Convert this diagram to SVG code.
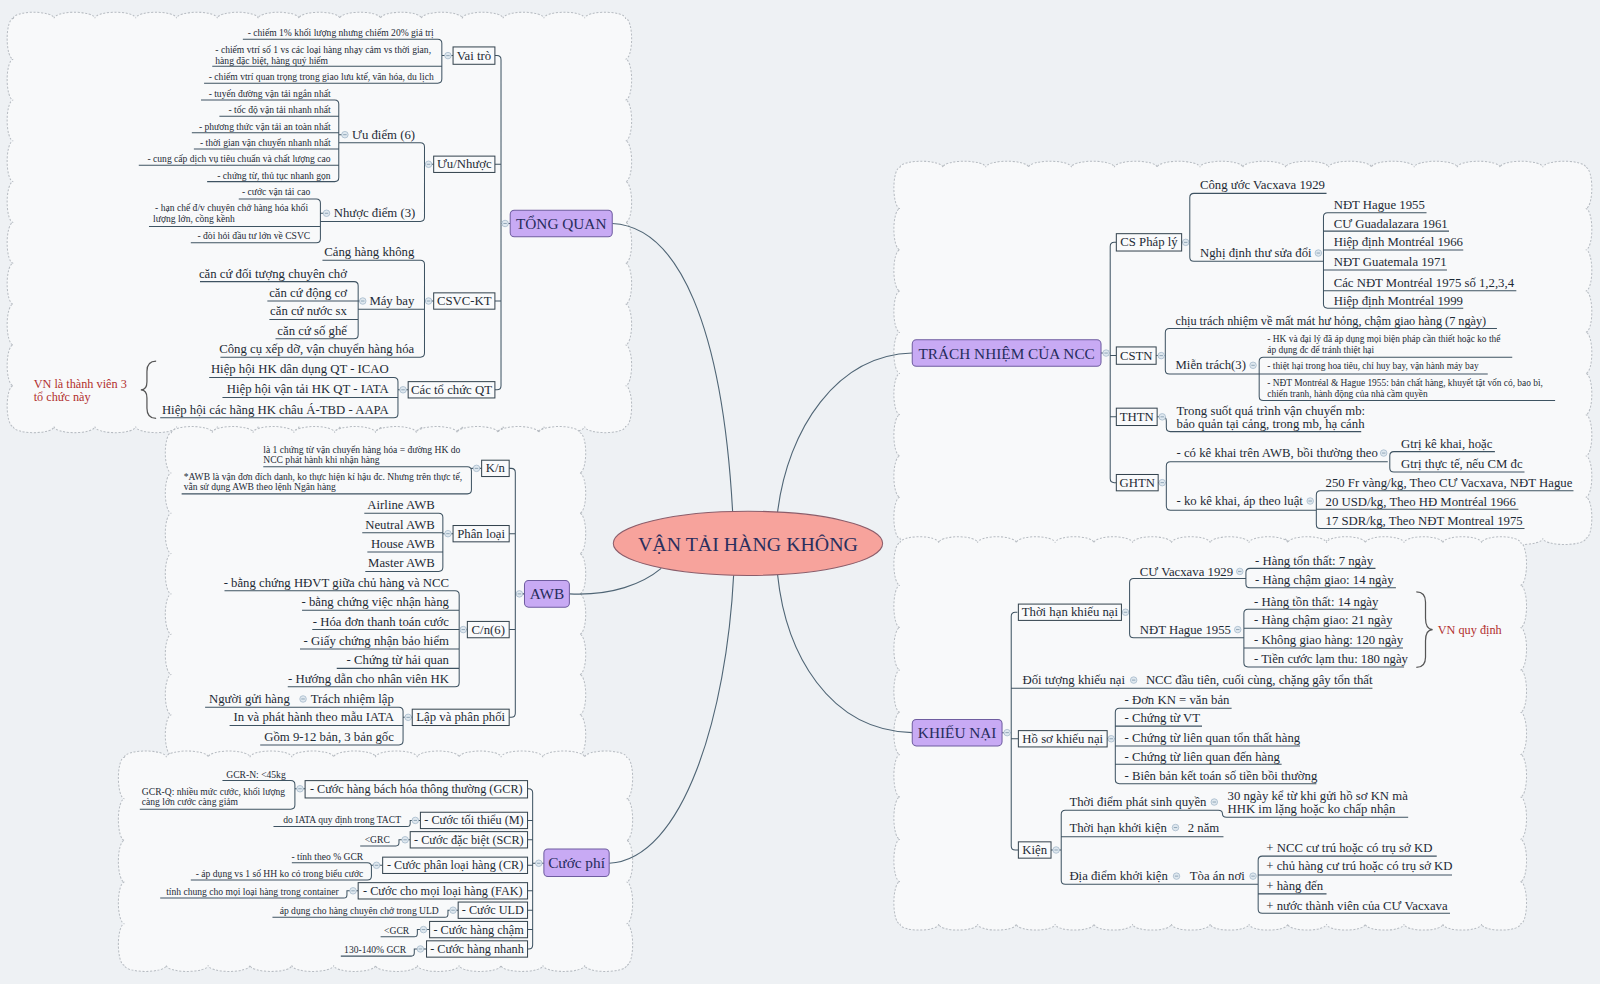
<svg xmlns="http://www.w3.org/2000/svg" width="1600" height="984" viewBox="0 0 1600 984">
<style>
text{font-family:"Liberation Serif","Times New Roman",serif;fill:#1d2a35;font-size:12.5px}
.s{font-size:9.4px}
.xs{font-size:9.2px}
.b12{font-size:12px}
.e{text-anchor:end}
.m{text-anchor:middle}
.r{fill:#b2302e;font-size:12px}
.h{font-size:15px;fill:#262c5c}
.ln{fill:none;stroke:#3e5362;stroke-width:1}
.cn{fill:none;stroke:#4f6575;stroke-width:1.1}
.bx{fill:#f9fafb;stroke:#35444f;stroke-width:1}
.l1{fill:#c8aaf4;stroke:#6f5da0;stroke-width:1}
.cl{fill:#f8f9fa;stroke:#b7bcc2;stroke-width:1;stroke-dasharray:2 1.6}
.br{fill:none;stroke:#555;stroke-width:1.2}
</style>
<defs>
<g id="c"><circle r="3.2" fill="#dfe8ef" stroke="#a6bacb" stroke-width="0.8"/><path d="M-1.7,0H1.7" stroke="#7e96aa" stroke-width="0.8"/></g>
</defs>
<rect width="1600" height="984" fill="#eef1f4"/>
<g transform="scale(1.020408)">
<g id="clouds">
<path class="cl" d="M13,18 a20,6 0 0 1 40,0 a20,6 0 0 1 40,0 a20,6 0 0 1 40,0 a20,6 0 0 1 40,0 a20,6 0 0 1 40,0 a20,6 0 0 1 40,0 a20,6 0 0 1 40,0 a20,6 0 0 1 40,0 a20,6 0 0 1 40,0 a20,6 0 0 1 40,0 a20,6 0 0 1 40,0 a20,6 0 0 1 40,0 a20,6 0 0 1 40,0 a20,6 0 0 1 40,0 a20,6 0 0 1 40,0 a6,20 0 0 1 0,40 a6,20 0 0 1 0,40 a6,20 0 0 1 0,40 a6,20 0 0 1 0,40 a6,20 0 0 1 0,40 a6,20 0 0 1 0,40 a6,20 0 0 1 0,40 a6,20 0 0 1 0,40 a6,20 0 0 1 0,40 a6,20 0 0 1 0,40 a20,6 0 0 1 -40,0 a20,6 0 0 1 -40,0 a20,6 0 0 1 -40,0 a20,6 0 0 1 -40,0 a20,6 0 0 1 -40,0 a20,6 0 0 1 -40,0 a20,6 0 0 1 -40,0 a20,6 0 0 1 -40,0 a20,6 0 0 1 -40,0 a20,6 0 0 1 -40,0 a20,6 0 0 1 -40,0 a20,6 0 0 1 -40,0 a20,6 0 0 1 -40,0 a20,6 0 0 1 -40,0 a20,6 0 0 1 -40,0 a6,20 0 0 1 0,-40 a6,20 0 0 1 0,-40 a6,20 0 0 1 0,-40 a6,20 0 0 1 0,-40 a6,20 0 0 1 0,-40 a6,20 0 0 1 0,-40 a6,20 0 0 1 0,-40 a6,20 0 0 1 0,-40 a6,20 0 0 1 0,-40 a6,20 0 0 1 0,-40z"/>
<path class="cl" d="M168,424 a20,6 0 0 1 40,0 a20,6 0 0 1 40,0 a20,6 0 0 1 40,0 a20,6 0 0 1 40,0 a20,6 0 0 1 40,0 a20,6 0 0 1 40,0 a20,6 0 0 1 40,0 a20,6 0 0 1 40,0 a20,6 0 0 1 40,0 a20,6 0 0 1 40,0 a6,19.75 0 0 1 0,39.5 a6,19.75 0 0 1 0,39.5 a6,19.75 0 0 1 0,39.5 a6,19.75 0 0 1 0,39.5 a6,19.75 0 0 1 0,39.5 a6,19.75 0 0 1 0,39.5 a6,19.75 0 0 1 0,39.5 a6,19.75 0 0 1 0,39.5 a20,6 0 0 1 -40,0 a20,6 0 0 1 -40,0 a20,6 0 0 1 -40,0 a20,6 0 0 1 -40,0 a20,6 0 0 1 -40,0 a20,6 0 0 1 -40,0 a20,6 0 0 1 -40,0 a20,6 0 0 1 -40,0 a20,6 0 0 1 -40,0 a20,6 0 0 1 -40,0 a6,19.75 0 0 1 0,-39.5 a6,19.75 0 0 1 0,-39.5 a6,19.75 0 0 1 0,-39.5 a6,19.75 0 0 1 0,-39.5 a6,19.75 0 0 1 0,-39.5 a6,19.75 0 0 1 0,-39.5 a6,19.75 0 0 1 0,-39.5 a6,19.75 0 0 1 0,-39.5z"/>
<path class="cl" d="M122,742 a20.5,6 0 0 1 41,0 a20.5,6 0 0 1 41,0 a20.5,6 0 0 1 41,0 a20.5,6 0 0 1 41,0 a20.5,6 0 0 1 41,0 a20.5,6 0 0 1 41,0 a20.5,6 0 0 1 41,0 a20.5,6 0 0 1 41,0 a20.5,6 0 0 1 41,0 a20.5,6 0 0 1 41,0 a20.5,6 0 0 1 41,0 a20.5,6 0 0 1 41,0 a6,20.4 0 0 1 0,40.8 a6,20.4 0 0 1 0,40.8 a6,20.4 0 0 1 0,40.8 a6,20.4 0 0 1 0,40.8 a6,20.4 0 0 1 0,40.8 a20.5,6 0 0 1 -41,0 a20.5,6 0 0 1 -41,0 a20.5,6 0 0 1 -41,0 a20.5,6 0 0 1 -41,0 a20.5,6 0 0 1 -41,0 a20.5,6 0 0 1 -41,0 a20.5,6 0 0 1 -41,0 a20.5,6 0 0 1 -41,0 a20.5,6 0 0 1 -41,0 a20.5,6 0 0 1 -41,0 a20.5,6 0 0 1 -41,0 a20.5,6 0 0 1 -41,0 a6,20.4 0 0 1 0,-40.8 a6,20.4 0 0 1 0,-40.8 a6,20.4 0 0 1 0,-40.8 a6,20.4 0 0 1 0,-40.8 a6,20.4 0 0 1 0,-40.8z"/>
<path class="cl" d="M882,164 a21,6 0 0 1 42,0 a21,6 0 0 1 42,0 a21,6 0 0 1 42,0 a21,6 0 0 1 42,0 a21,6 0 0 1 42,0 a21,6 0 0 1 42,0 a21,6 0 0 1 42,0 a21,6 0 0 1 42,0 a21,6 0 0 1 42,0 a21,6 0 0 1 42,0 a21,6 0 0 1 42,0 a21,6 0 0 1 42,0 a21,6 0 0 1 42,0 a21,6 0 0 1 42,0 a21,6 0 0 1 42,0 a21,6 0 0 1 42,0 a6,20.2 0 0 1 0,40.4 a6,20.2 0 0 1 0,40.4 a6,20.2 0 0 1 0,40.4 a6,20.2 0 0 1 0,40.4 a6,20.2 0 0 1 0,40.4 a6,20.2 0 0 1 0,40.4 a6,20.2 0 0 1 0,40.4 a6,20.2 0 0 1 0,40.4 a6,20.2 0 0 1 0,40.4 a21,6 0 0 1 -42,0 a21,6 0 0 1 -42,0 a21,6 0 0 1 -42,0 a21,6 0 0 1 -42,0 a21,6 0 0 1 -42,0 a21,6 0 0 1 -42,0 a21,6 0 0 1 -42,0 a21,6 0 0 1 -42,0 a21,6 0 0 1 -42,0 a21,6 0 0 1 -42,0 a21,6 0 0 1 -42,0 a21,6 0 0 1 -42,0 a21,6 0 0 1 -42,0 a21,6 0 0 1 -42,0 a21,6 0 0 1 -42,0 a21,6 0 0 1 -42,0 a6,20.2 0 0 1 0,-40.4 a6,20.2 0 0 1 0,-40.4 a6,20.2 0 0 1 0,-40.4 a6,20.2 0 0 1 0,-40.4 a6,20.2 0 0 1 0,-40.4 a6,20.2 0 0 1 0,-40.4 a6,20.2 0 0 1 0,-40.4 a6,20.2 0 0 1 0,-40.4 a6,20.2 0 0 1 0,-40.4z"/>
<path class="cl" d="M882,532 a19,6 0 0 1 38,0 a19,6 0 0 1 38,0 a19,6 0 0 1 38,0 a19,6 0 0 1 38,0 a19,6 0 0 1 38,0 a19,6 0 0 1 38,0 a19,6 0 0 1 38,0 a19,6 0 0 1 38,0 a19,6 0 0 1 38,0 a19,6 0 0 1 38,0 a19,6 0 0 1 38,0 a19,6 0 0 1 38,0 a19,6 0 0 1 38,0 a19,6 0 0 1 38,0 a19,6 0 0 1 38,0 a19,6 0 0 1 38,0 a6,20.75 0 0 1 0,41.5 a6,20.75 0 0 1 0,41.5 a6,20.75 0 0 1 0,41.5 a6,20.75 0 0 1 0,41.5 a6,20.75 0 0 1 0,41.5 a6,20.75 0 0 1 0,41.5 a6,20.75 0 0 1 0,41.5 a6,20.75 0 0 1 0,41.5 a6,20.75 0 0 1 0,41.5 a19,6 0 0 1 -38,0 a19,6 0 0 1 -38,0 a19,6 0 0 1 -38,0 a19,6 0 0 1 -38,0 a19,6 0 0 1 -38,0 a19,6 0 0 1 -38,0 a19,6 0 0 1 -38,0 a19,6 0 0 1 -38,0 a19,6 0 0 1 -38,0 a19,6 0 0 1 -38,0 a19,6 0 0 1 -38,0 a19,6 0 0 1 -38,0 a19,6 0 0 1 -38,0 a19,6 0 0 1 -38,0 a19,6 0 0 1 -38,0 a19,6 0 0 1 -38,0 a6,20.75 0 0 1 0,-41.5 a6,20.75 0 0 1 0,-41.5 a6,20.75 0 0 1 0,-41.5 a6,20.75 0 0 1 0,-41.5 a6,20.75 0 0 1 0,-41.5 a6,20.75 0 0 1 0,-41.5 a6,20.75 0 0 1 0,-41.5 a6,20.75 0 0 1 0,-41.5 a6,20.75 0 0 1 0,-41.5z"/>
</g>
<g id="connectors">
<path class="cn" d="M600,219 C665,222 708,320 718,502 M894,346 C820,348 772,420 762,502 M558,582 C600,584 630,572 648,557 M597,846 C670,842 712,700 719,563 M894,718 C812,716 770,640 762,563"/>
<path class="ln" d="M485,54.5 H487 Q491,54.5 491,58.5 V378 Q491,382 487,382 H485 M485,161 H491 M485,295 H491 M491,219 H500
M433,54.5 H444 M238,38.5 H429 Q433,38.5 433,42.5 V77.5 Q433,81.5 429,81.5 H200 M208,65 H433
M416,161 H425 M332,140 H412 Q416,140 416,144 V213 Q416,217 412,217 H314
M332,132 H338 M197,98 H328 Q332,98 332,102 V174 Q332,178 328,178 H203 M215,114 H332 M188,130 H332 M190,146 H332 M136,162 H332
M314,209 H320 M234,195 H310 Q314,195 314,199 V234 Q314,238 310,238 H187 M146,222 H314
M416,295 H425 M316,255 H412 Q416,255 416,259 V346 Q416,350 412,350 H216 M351,303 H416
M351,295 H355 M196,276 H347 Q351,276 351,280 V328 Q351,332 347,332 H270 M262,295 H351 M264,313 H351
M390,382 H400 M205,370 H386 Q390,370 390,374 V405.5 Q390,409.5 386,409.5 H157 M218,389.5 H390"/>
<path class="ln" d="M499,459 H501 Q505,459 505,463 V699 Q505,703 501,703 H499 M499,523 H505 M499,617 H505 M505,582 H514
M462,459 H472 M258,457.5 H458 Q462,457.5 462,461.5 V480 Q462,484 458,484 H178
M434,523 H444 M357,503 H430 Q434,503 434,507 V556 Q434,560 430,560 H358 M355,522 H434 M360,541 H434
M450,617 H458 M220,579 H446 Q450,579 450,583 V669 Q450,673 446,673 H282 M296,598 H450 M306,617 H450 M294,636 H450 M330,655 H450
M395,703 H404 M201,693 H391 Q395,693 395,697 V726 Q395,730 391,730 H255 M225,711 H395"/>
<path class="ln" d="M517,773 H518 Q522,773 522,777 V926 Q522,930 518,930 H517 M517,804 H522 M517,823 H522 M517,848 H522 M517,873 H522 M517,892 H522 M517,911 H522 M522,846 H533
M289,773 H299 M218,765 H285 Q289,765 289,769 V789 Q289,793 285,793 H137
M268,810 H399 Q402,810 402,807 V804 H412
M353,829 H388 Q391,829 391,826 V823 H402
M364,848 H375 M286,845.5 H360 Q364,845.5 364,849.5 V858.5 Q364,862.5 360,862.5 H187
M157,880 H337 Q340,880 340,877 V873 H351
M267,899 H436 Q439,899 439,896 V892 H449
M373,918 H406 Q409,918 409,915 V911 H421
M334,937 H403 Q406,937 406,934 V930 H418"/>
<path class="ln" d="M1079,346 H1088 M1094,237.5 H1092 Q1088,237.5 1088,241.5 V469 Q1088,473 1092,473 H1094 M1088,348.5 H1094 M1088,408.5 H1094
M1158,237.5 H1166 M1300,189.5 H1170 Q1166,189.5 1166,193.5 V252 Q1166,256 1170,256 H1297
M1398,208.5 H1301 Q1297,208.5 1297,212.5 V298 Q1297,302 1301,302 H1434 M1297,226.5 H1420 M1297,245 H1434 M1297,264.5 H1418 M1297,285 H1486
M1133,348.5 H1142 M1467,322 H1146 Q1142,322 1142,326 V362.5 Q1142,366.5 1146,366.5 H1234
M1482,350 H1238 Q1234,350 1234,354 V388.5 Q1234,392.5 1238,392.5 H1524 M1234,366.5 H1458
M1134,408.5 H1139 Q1143,408.5 1143,412.5 V419 Q1143,423 1147,423 H1334
M1135,473 H1143 M1360,452.6 H1147 Q1143,452.6 1143,456.6 V496 Q1143,500 1147,500 H1290
M1465,442.6 H1366 Q1362,442.6 1362,446.6 V458.6 Q1362,462.6 1366,462.6 H1494
M1542,481 H1294 Q1290,481 1290,485 V514 Q1290,518 1294,518 H1494 M1290,499 H1488"/>
<path class="ln" d="M982,718 H991 M997,600 H995 Q991,600 991,604 V829 Q991,833 995,833 H998 M991,674.5 H1345 M991,724 H998
M1099,600 H1107 M1221,567 H1111 Q1107,567 1107,571 V621 Q1107,625 1111,625 H1219
M1348,557 H1225 Q1221,557 1221,561 V572 Q1221,576 1225,576 H1368
M1350,597 H1223 Q1219,597 1219,601 V649.6 Q1219,653.6 1223,653.6 H1376 M1219,615.6 H1364 M1219,635 H1375
M1085,724 H1093 M1207,694 H1097 Q1093,694 1093,698 V764 Q1093,768 1097,768 H1290 M1093,711.6 H1178 M1093,731 H1274 M1093,749 H1256
M1030,833 H1040 M1380,801 H1202 Q1198,801 1198,797.5 Q1198,794 1194,794 H1044 Q1040,794 1040,798 V862.6 Q1040,866.6 1044,866.6 H1233 M1040,820 H1199
M1408,839 H1237 Q1233,839 1233,843 V891 Q1233,895 1237,895 H1421 M1233,857.6 H1423 M1233,876 H1300"/>
<path class="br" d="M153,354 Q144,354 144,364 V374 Q144,382 138,382 Q144,382 144,390 V400 Q144,410 153,410"/>
<path class="br" d="M1388,580 Q1397,580 1397,590 V606 Q1397,617 1404,617 Q1397,617 1397,628 V644 Q1397,654 1388,654"/>
<use href="#c" x="495" y="219"/><use href="#c" x="439" y="54.5"/><use href="#c" x="420" y="161"/><use href="#c" x="420" y="295"/><use href="#c" x="395" y="382"/><use href="#c" x="338" y="132"/><use href="#c" x="320" y="209"/><use href="#c" x="355.5" y="295"/>
<use href="#c" x="509" y="582"/><use href="#c" x="467" y="459"/><use href="#c" x="439" y="523"/><use href="#c" x="454" y="617"/><use href="#c" x="400" y="703"/><use href="#c" x="297" y="685"/>
<use href="#c" x="528" y="846"/><use href="#c" x="294" y="773"/><use href="#c" x="407" y="804"/><use href="#c" x="397" y="823"/><use href="#c" x="369" y="848"/><use href="#c" x="346" y="873"/><use href="#c" x="444" y="892"/><use href="#c" x="415" y="911"/><use href="#c" x="412" y="930"/>
<use href="#c" x="1084" y="346"/><use href="#c" x="1162" y="237.5"/><use href="#c" x="1292" y="248"/><use href="#c" x="1138" y="348.5"/><use href="#c" x="1228" y="358"/><use href="#c" x="1139" y="408.5"/><use href="#c" x="1139" y="473"/><use href="#c" x="1356" y="444"/><use href="#c" x="1284" y="491"/>
<use href="#c" x="987" y="718"/><use href="#c" x="1103" y="600"/><use href="#c" x="1215" y="560"/><use href="#c" x="1213" y="617"/><use href="#c" x="1111" y="666.5"/><use href="#c" x="1089" y="724"/><use href="#c" x="1035" y="833"/><use href="#c" x="1190" y="786"/><use href="#c" x="1152" y="811"/><use href="#c" x="1153" y="858.6"/><use href="#c" x="1228" y="858.6"/>
</g>
<g id="center"><ellipse cx="733" cy="532.5" rx="132" ry="31.5" fill="#f7a39c" stroke="#8b5d6a" stroke-width="1"/><text x="733" y="539.5" class="m" style="font-size:19.5px;fill:#2a2f5e">VẬN TẢI HÀNG KHÔNG</text></g>
<g id="tong-quan"><rect class="l1" x="500" y="206" width="100" height="26" rx="4"/><text class="h m" x="550" y="224.5">TỔNG QUAN</text></g>
<g id="vai-tro"><rect class="bx" x="444" y="46" width="41" height="17"/><text class="m" x="464.5" y="58.5">Vai trò</text>
<text class="s e" x="425" y="35.5">- chiếm 1% khối lượng nhưng chiếm 20% giá trị</text>
<text class="s" x="211" y="52">- chiếm vtrí số 1 vs các loại hàng nhạy cảm vs thời gian,</text>
<text class="s" x="211" y="62.5">hàng đặc biệt, hàng quý hiếm</text>
<text class="s e" x="425" y="78.5">- chiếm vtrí quan trọng trong giao lưu ktế, văn hóa, du lịch</text></g>
<g id="uu-nhuoc"><rect class="bx" x="425" y="153" width="60" height="16"/><text class="m" x="455" y="165">Ưu/Nhược</text></g>
<g id="uu-diem"><text x="345" y="136">Ưu điểm (6)</text>
<text class="s e" x="324" y="95">- tuyến đường vận tải ngắn nhất</text>
<text class="s e" x="324" y="111">- tốc độ vận tải nhanh nhất</text>
<text class="s e" x="324" y="127">- phương thức vận tải an toàn nhất</text>
<text class="s e" x="324" y="143">- thời gian vận chuyển nhanh nhất</text>
<text class="s e" x="324" y="159">- cung cấp dịch vụ tiêu chuẩn và chất lượng cao</text>
<text class="s e" x="324" y="175">- chứng từ, thủ tục nhanh gọn</text></g>
<g id="nhuoc-diem"><text x="327" y="213">Nhược điểm (3)</text>
<text class="s e" x="304" y="191.5">- cước vận tải cao</text>
<text class="s" x="152" y="207">- hạn chế đ/v chuyên chở hàng hóa khối</text>
<text class="s" x="150" y="218">lượng lớn, cồng kềnh</text>
<text class="s e" x="304" y="234.5">- đòi hỏi đầu tư lớn về CSVC</text></g>
<g id="csvc-kt"><rect class="bx" x="425" y="287" width="60" height="16"/><text class="m" x="455" y="299">CSVC-KT</text>
<text class="e" x="406" y="251">Cảng hàng không</text>
<text class="e" x="406" y="346">Công cụ xếp dỡ, vận chuyển hàng hóa</text></g>
<g id="may-bay"><text x="362" y="299">Máy bay</text>
<text class="e" x="340" y="272">căn cứ đối tượng chuyên chở</text>
<text class="e" x="340" y="291">căn cứ động cơ</text>
<text class="e" x="340" y="309">căn cứ nước sx</text>
<text class="e" x="340" y="328">căn cứ số ghế</text></g>
<g id="to-chuc-qt"><rect class="bx" x="400" y="374" width="85" height="16"/><text class="m" x="442.5" y="386">Các tổ chức QT</text>
<text class="e" x="381" y="366">Hiệp hội HK dân dụng QT - ICAO</text>
<text class="e" x="381" y="385.5">Hiệp hội vận tải HK QT - IATA</text>
<text class="e" x="381" y="405.5">Hiệp hội các hãng HK châu Á-TBD - AAPA</text>
<text class="r" x="33" y="380">VN là thành viên 3</text>
<text class="r" x="33" y="393">tổ chức này</text></g>
<g id="awb"><rect class="l1" x="514" y="569" width="44" height="26" rx="4"/><text class="h m" x="536" y="587.5">AWB</text></g>
<g id="kn"><rect class="bx" x="472" y="451" width="27" height="16"/><text class="m" x="485.5" y="463">K/n</text>
<text class="s" x="258" y="443.5">là 1 chứng từ vận chuyển hàng hóa = đường HK do</text>
<text class="s" x="258" y="453.5">NCC phát hành khi nhận hàng</text>
<text class="s" x="180" y="470.5">*AWB là vận đơn đích danh, ko thực hiện kí hậu đc. Nhưng trên thực tế,</text>
<text class="s" x="180" y="480.5">vẫn sử dụng AWB theo lệnh Ngân hàng</text></g>
<g id="phan-loai"><rect class="bx" x="444" y="515" width="55" height="16"/><text class="m" x="471.5" y="527">Phân loại</text>
<text class="e" x="426" y="499">Airline AWB</text>
<text class="e" x="426" y="518">Neutral AWB</text>
<text class="e" x="426" y="537">House AWB</text>
<text class="e" x="426" y="556">Master AWB</text></g>
<g id="cn6"><rect class="bx" x="458" y="609" width="41" height="16"/><text class="m" x="478.5" y="621">C/n(6)</text>
<text class="e" x="440" y="575">- bằng chứng HĐVT giữa chủ hàng và NCC</text>
<text class="e" x="440" y="594">- bằng chứng việc nhận hàng</text>
<text class="e" x="440" y="613">- Hóa đơn thanh toán cước</text>
<text class="e" x="440" y="632">- Giấy chứng nhận bảo hiểm</text>
<text class="e" x="440" y="651">- Chứng từ hải quan</text>
<text class="e" x="440" y="669">- Hướng dẫn cho nhân viên HK</text></g>
<g id="lap-phan-phoi"><rect class="bx" x="404" y="695" width="95" height="16"/><text class="m" x="451.5" y="707">Lập và phân phối</text>
<text class="e" x="386" y="689">Trách nhiệm lập</text>
<text class="e" x="284" y="689">Người gửi hàng</text>
<text class="e" x="386" y="707">In và phát hành theo mẫu IATA</text>
<text class="e" x="386" y="726">Gồm 9-12 bản, 3 bản gốc</text></g>
<g id="cuoc-phi"><rect class="l1" x="533" y="832" width="64" height="27" rx="4"/><text class="h m" x="565" y="851">Cước phí</text></g>
<g id="gcr"><rect class="bx" x="299" y="765" width="218" height="17"/><text class="m b12" x="408" y="777.5">- Cước hàng bách hóa thông thường (GCR)</text>
<text class="s e" x="280" y="762">GCR-N: &lt;45kg</text>
<text class="s" x="139" y="779">GCR-Q: nhiều mức cước, khối lượng</text>
<text class="s" x="139" y="789">càng lớn cước càng giảm</text></g>
<g id="cuoc-m"><rect class="bx" x="412" y="796" width="105" height="16"/><text class="m b12" x="464.5" y="808">- Cước tối thiểu (M)</text>
<text class="s e" x="393" y="807">do IATA quy định trong TACT</text></g>
<g id="cuoc-scr"><rect class="bx" x="402" y="815" width="115" height="16"/><text class="m b12" x="459.5" y="827">- Cước đặc biệt (SCR)</text>
<text class="s e" x="382" y="826">&lt;GRC</text></g>
<g id="cuoc-cr"><rect class="bx" x="375" y="840" width="142" height="16"/><text class="m b12" x="446" y="852">- Cước phân loại hàng (CR)</text>
<text class="s e" x="356" y="842.5">- tính theo % GCR</text>
<text class="s e" x="356" y="859.5">- áp dụng vs 1 số HH ko có trong biểu cước</text></g>
<g id="cuoc-fak"><rect class="bx" x="351" y="865" width="166" height="16"/><text class="m b12" x="434" y="877">- Cước cho mọi loại hàng (FAK)</text>
<text class="s e" x="332" y="877">tính chung cho mọi loại hàng trong container</text></g>
<g id="cuoc-uld"><rect class="bx" x="449" y="884" width="68" height="16"/><text class="m b12" x="483" y="896">- Cước ULD</text>
<text class="s e" x="430" y="896">áp dụng cho hàng chuyên chở trong ULD</text></g>
<g id="cuoc-cham"><rect class="bx" x="421" y="903" width="96" height="16"/><text class="m b12" x="469" y="915">- Cước hàng chậm</text>
<text class="s e" x="401" y="915">&lt;GCR</text></g>
<g id="cuoc-nhanh"><rect class="bx" x="418" y="922" width="99" height="16"/><text class="m b12" x="467.5" y="934">- Cước hàng nhanh</text>
<text class="s e" x="398" y="934">130-140% GCR</text></g>
<g id="trach-nhiem"><rect class="l1" x="894" y="333" width="185" height="26" rx="4"/><text class="h m" x="986.5" y="351.5">TRÁCH NHIỆM CỦA NCC</text></g>
<g id="cs-phap-ly"><rect class="bx" x="1094" y="229" width="64" height="17"/><text class="m" x="1126" y="241.5">CS Pháp lý</text>
<text x="1176" y="185">Công ước Vacxava 1929</text>
<text x="1176" y="252">Nghị định thư sửa đổi</text>
<text x="1307" y="204.5">NĐT Hague 1955</text>
<text x="1307" y="223">CƯ Guadalazara 1961</text>
<text x="1307" y="241.5">Hiệp định Montréal 1966</text>
<text x="1307" y="261">NĐT Guatemala 1971</text>
<text x="1307" y="281">Các NĐT Montréal 1975 số 1,2,3,4</text>
<text x="1307" y="298.5">Hiệp định Montréal 1999</text></g>
<g id="cstn"><rect class="bx" x="1094" y="340" width="39" height="17"/><text class="m" x="1113.5" y="352.5">CSTN</text>
<text x="1152" y="318.5" style="font-size:12px">chịu trách nhiệm về mất mát hư hỏng, chậm giao hàng (7 ngày)</text>
<text x="1152" y="362">Miễn trách(3)</text>
<text class="xs" x="1242" y="335">- HK và đại lý đã áp dụng mọi biện pháp cần thiết hoặc ko thể</text>
<text class="xs" x="1242" y="345.5">áp dụng đc để tránh thiệt hại</text>
<text class="xs" x="1242" y="362">- thiệt hại trong hoa tiêu, chỉ huy bay, vận hành máy bay</text>
<text class="xs" x="1242" y="378.5">- NĐT Montréal &amp; Hague 1955: bản chất hàng, khuyết tật vốn có, bao bì,</text>
<text class="xs" x="1242" y="389">chiến tranh, hành động của nhà cầm quyền</text></g>
<g id="thtn"><rect class="bx" x="1094" y="400" width="40" height="17"/><text class="m" x="1114" y="412.5">THTN</text>
<text x="1153" y="407">Trong suốt quá trình vận chuyển mb:</text>
<text x="1153" y="419.5">bảo quản tại cảng, trong mb, hạ cánh</text></g>
<g id="ghtn"><rect class="bx" x="1094" y="465" width="41" height="16"/><text class="m" x="1114.5" y="477">GHTN</text>
<text x="1153" y="448">- có kê khai trên AWB, bồi thường theo</text>
<text x="1373" y="439">Gtrị kê khai, hoặc</text>
<text x="1373" y="459">Gtrị thực tế, nếu CM đc</text>
<text x="1153" y="495">- ko kê khai, áp theo luật</text>
<text x="1299" y="477">250 Fr vàng/kg, Theo CƯ Vacxava, NĐT Hague</text>
<text x="1299" y="495.5">20 USD/kg, Theo HĐ Montréal 1966</text>
<text x="1299" y="514.5">17 SDR/kg, Theo NĐT Montreal 1975</text></g>
<g id="khieu-nai"><rect class="l1" x="894" y="705" width="88" height="26" rx="4"/><text class="h m" x="938" y="723.5">KHIẾU NẠI</text></g>
<g id="thoi-han-kn"><rect class="bx" x="998" y="592" width="101" height="16"/><text class="m" x="1048.5" y="604">Thời hạn khiếu nại</text>
<text x="1117" y="564">CƯ Vacxava 1929</text>
<text x="1230" y="554">- Hàng tổn thất: 7 ngày</text>
<text x="1230" y="572.5">- Hàng chậm giao: 14 ngày</text>
<text x="1117" y="621">NĐT Hague 1955</text>
<text x="1229" y="594">- Hàng tồn thất: 14 ngày</text>
<text x="1229" y="612">- Hàng chậm giao: 21 ngày</text>
<text x="1229" y="631">- Không giao hàng: 120 ngày</text>
<text x="1229" y="650">- Tiền cước lạm thu: 180 ngày</text>
<text class="r" x="1409" y="621">VN quy định</text></g>
<g id="doi-tuong-kn"><text x="1002" y="670.5">Đối tượng khiếu nại</text>
<text x="1123" y="670.5">NCC đầu tiên, cuối cùng, chặng gây tổn thất</text></g>
<g id="ho-so-kn"><rect class="bx" x="998" y="716" width="87" height="16"/><text class="m" x="1041.5" y="728">Hồ sơ khiếu nại</text>
<text x="1102" y="690">- Đơn KN = văn bản</text>
<text x="1102" y="707.5">- Chứng từ VT</text>
<text x="1102" y="727">- Chứng từ liên quan tổn thất hàng</text>
<text x="1102" y="745.5">- Chứng từ liên quan đến hàng</text>
<text x="1102" y="764">- Biên bản kết toán số tiền bồi thường</text></g>
<g id="kien"><rect class="bx" x="998" y="825" width="32" height="16"/><text class="m" x="1014" y="837">Kiện</text>
<text x="1048" y="790">Thời điểm phát sinh quyền</text>
<text x="1203" y="784">30 ngày kể từ khi gửi hồ sơ KN mà</text>
<text x="1203" y="797">HHK im lặng hoặc ko chấp nhận</text>
<text x="1048" y="815.5">Thời hạn khởi kiện</text>
<text x="1164" y="815.5">2 năm</text>
<text x="1048" y="862.5">Địa điểm khởi kiện</text>
<text x="1166" y="862.5">Tòa án nơi</text>
<text x="1241" y="834.5">+ NCC cư trú hoặc có trụ sở KD</text>
<text x="1241" y="853">+ chủ hàng cư trú hoặc có trụ sở KD</text>
<text x="1241" y="872">+ hàng đến</text>
<text x="1241" y="891.5">+ nước thành viên của CƯ Vacxava</text></g>
</g>
</svg>
